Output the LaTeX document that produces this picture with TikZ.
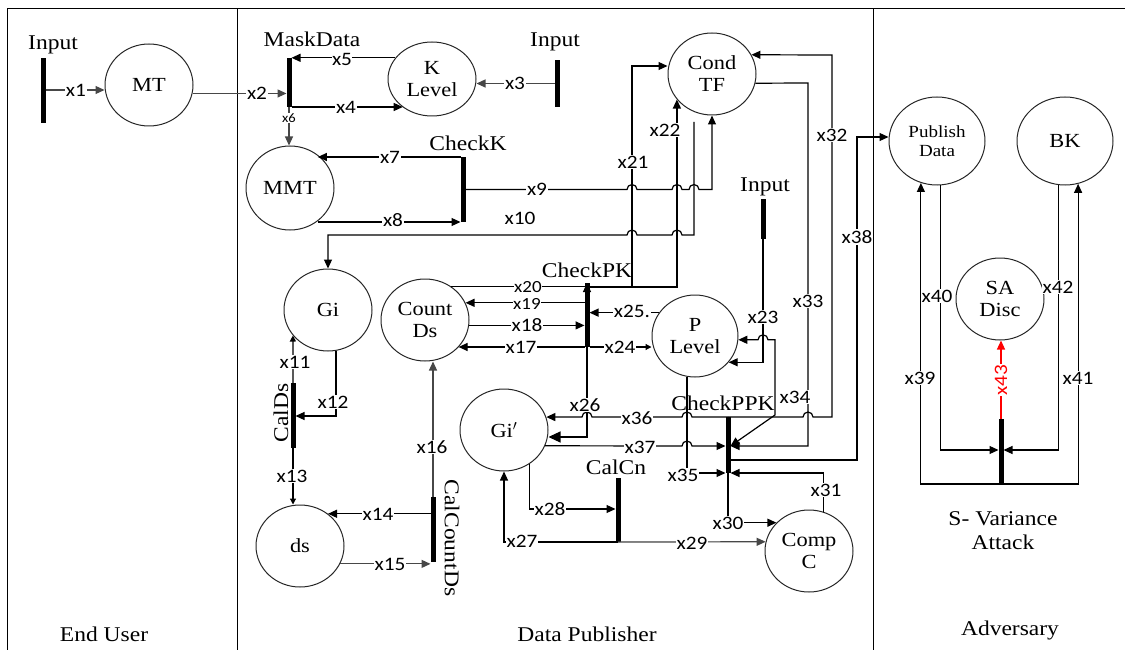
\documentclass[tikz,border=0pt]{standalone}
\usepackage{fontspec}
\setmainfont{Liberation Serif}[FakeStretch=1.12]
\newfontfamily\labfont{Carlito}[FakeStretch=1.12]
\usetikzlibrary{shapes.geometric,arrows.meta}
\begin{document}
\begin{tikzpicture}[x=1pt,y=-1pt,
 place/.style={ellipse,draw=black!85,line width=1pt,minimum width=88pt,minimum height=82pt,inner sep=0pt,align=center,font=\fontsize{20}{22}\selectfont},
 bar/.style={fill=black,minimum width=5pt,inner sep=0pt,outer sep=0pt},
 lab/.style={fill=white,inner sep=1pt,font=\labfont\fontsize{19}{19}\selectfont},
 slab/.style={fill=white,inner sep=0pt,font=\labfont\fontsize{17}{17}\selectfont},
 ttl/.style={font=\fontsize{21}{24}\selectfont,inner sep=0pt,align=center},
 plain/.style={line width=1.2pt},
 con/.style={line width=1.2pt,-{Triangle[length=9pt,width=8pt]}},
 gcon/.style={con,draw=black!72,fill=black!72},
 scon/.style={line width=1.2pt,-{Triangle[length=6pt,width=6pt]}},
 both/.style={line width=1.2pt,{Triangle[length=9pt,width=8pt]}-{Triangle[length=9pt,width=8pt]}}]
\useasboundingbox (0,0) rectangle (1125,650);
% frame
\draw[line width=1pt] (7,650) -- (7,9) -- (1125,9);
\draw[line width=1pt] (237,9) -- (237,650);
\draw[line width=1pt] (873,9) -- (873,650);
\node[ttl] at (104,634) {End User};
\node[ttl] at (587,634) {Data Publisher};
\node[ttl] at (1010,630) {Adversary};
% nodes
\node[bar,minimum height=65pt] (in1) at (43,90.5) {};
\node[ttl] at (53,45) {Input};
\node[place] (mt) at (149,85) {MT};
\node[bar,minimum height=49pt] (mask) at (289,82.5) {};
\node[ttl] at (312,39) {MaskData};
\node[place,minimum height=74pt] (kl) at (432,79) {K\\Level};
\node[bar,minimum height=47pt] (in2) at (557,83.5) {};
\node[ttl] at (555,42) {Input};
\node[place,minimum height=84pt] (mmt) at (290,188) {MMT};
\node[bar,minimum height=65pt] (chk) at (463,189.5) {};
\node[ttl] at (468,143) {CheckK};
\node[place] (ctf) at (712,74) {Cond\\TF};
\node[bar,minimum height=40pt] (in3) at (763,219) {};
\node[ttl] at (765,187) {Input};
\node[place] (gi) at (328,310) {Gi};
\node[place] (cds) at (425,320) {Count\\Ds};
\node[bar,minimum height=64pt] (cpk) at (587,315) {};
\node[ttl] at (587,270) {CheckPK};
\node[place,minimum width=86pt] (pl) at (695,336) {P\\Level};
\node[bar,minimum height=65pt] (cal) at (293,415.5) {};
\node[ttl,rotate=90] at (281,413) {CalDs};
\node[place] (ds) at (300,546) {ds};
\node[bar,minimum height=65pt] (ccd) at (433,529.5) {};
\node[ttl,rotate=-90] at (452,538) {CalCountDs};
\node[place] (gip) at (504,430) {Gi$'$};
\node[bar,minimum height=56pt] (cppk) at (728,445) {};
\node[ttl] at (723,403) {CheckPPK};
\node[bar,minimum height=64pt] (ccn) at (618,510) {};
\node[ttl] at (616,467) {CalCn};
\node[place] (cc) at (809,551) {Comp\\C};
\node[place,minimum width=96pt,minimum height=88pt,font=\fontsize{17}{19}\selectfont] (pd) at (937,141) {Publish\\Data};
\node[place,minimum width=96pt,minimum height=88pt] (bk) at (1065,141) {BK};
\node[place] (sa) at (1000,299) {SA\\Disc};
\node[bar,minimum height=65pt] (sva) at (1001,451.5) {};
\node[ttl] at (1003,531) {S- Variance\\Attack};
% End user / masking
\draw[gcon] (in1.east |- 0,90) -- (mt.west |- 0,90);
\node[lab] at (76,90) {x1};
\draw[gcon] (mt.-11) -- (mt.-11 -| mask.west);
\node[lab] at (257,93) {x2};
\draw[con] (kl.150) -- (kl.150 -| mask.east);
\node[lab,inner sep=0pt] at (342,59) {x5};
\draw[con] (mask.south east) -- (mask.south east -| kl.-136);
\node[lab] at (346,107) {x4};
\draw[gcon] (in2.west) -- (in2.west -| kl.east);
\node[lab] at (515,83) {x3};
\draw[gcon] (mask.south) -- (mask.south |- mmt.north);
\node[lab,font=\labfont\fontsize{13}{13}\selectfont,inner sep=0.5pt] at (289,118) {x6};
\draw[con] (chk.north west) -- (chk.north west -| mmt.50);
\node[lab] at (390,157) {x7};
\draw[con] (mmt.-50 |- chk.south west) -- (chk.south west);
\node[lab] at (393,220) {x8};
% x9
\draw[con] (chk.east) -- (627,189.5) arc[start angle=180,end angle=0,radius=5pt]
  -- (672,189.5) arc[start angle=180,end angle=0,radius=5pt]
  -- (689,189.5) arc[start angle=180,end angle=0,radius=5pt]
  -- (ctf.south |- chk.east) -- (ctf.south);
\node[lab] at (537,189) {x9};
% x10
\coordinate (x10s) at (694,122);
\draw[con] (x10s) -- (694,235) -- (682,235) arc[start angle=0,end angle=180,radius=5pt]
  -- (637,235) arc[start angle=0,end angle=180,radius=5pt]
  -- (gi.north |- 0,235) -- (gi.north);
\node[lab] at (520,218) {x10};
% x21, x22
\draw[con] (cpk.north east |- 0,287) -- (ctf.-144.5 |- 0,287) -- (ctf.-144.5);
\coordinate (j21) at (632,287);
\draw[con] (j21) -- (632,66) -- (ctf.west |- 0,66);
\node[lab] at (633,162) {x21};
\node[lab] at (665,130) {x22};
% CheckPK arcs
\draw[plain] (cds.52) -- (cds.52 -| cpk.west);
\node[slab] at (528,287) {x20};
\draw[plain,{Triangle[length=9pt,width=8pt]}-{Triangle[length=12pt,width=11pt]}] (cpk.north) -- (cpk.north |- 0,437) -- (gip.east |- 0,437);
\draw[con] (cds.23 -| cpk.west) -- (cds.23);
\node[slab] at (527,304) {x19};
\draw[con] (cds.-7) -- (cds.-7 -| cpk.west);
\node[lab] at (527,325) {x18};
\draw[con] (cpk.south west) -- (cpk.south west -| cds.-39);
\node[lab] at (521,347) {x17};
\draw[scon] (cpk.south east) -- (cpk.south east -| pl.west);
\node[lab] at (620,347) {x24};
\draw[con] (pl.147) -- (pl.147 -| cpk.east);
\node[lab] at (632,311) {x25.};
% P Level
\draw[con] (in3.south) -- (in3.south |- pl.-38) -- (pl.-38);
\node[lab] at (763,317) {x23};
\draw[both] (pl.-5) -- (758,339.8) arc[start angle=180,end angle=0,radius=5pt]
  -- (775,339.8) -- (775,415) -- (cppk.east |- 0,446);
\draw[con] (ctf.-12) -- (808,83) -- (808,446) -- (cppk.east |- 0,446);
\node[lab] at (808,301) {x33};
\node[lab] at (795,397) {x34};
% x36, x32
\draw[con] (cppk.north) -- (692,417) arc[start angle=0,end angle=180,radius=5pt]
  -- (592,417) arc[start angle=0,end angle=180,radius=5pt] -- (gip.17);
\node[lab] at (585,405) {x26};
\node[lab] at (637,418) {x36};
\draw[con] (cppk.north) -- (803,417) arc[start angle=180,end angle=0,radius=5pt]
  -- (832,417) -- (832,55) -- (ctf.26);
\node[lab] at (832,135) {x32};
% x37
\draw[con] (gip.-21.6) -- (682,446) arc[start angle=180,end angle=0,radius=5pt]
  -- (cppk.west |- 0,446);
\node[lab] at (640,447) {x37};
% x35
\draw[con] (pl.-101) -- (pl.-101 |- cppk.south west) -- (cppk.south west);
\node[lab] at (683,475) {x35};
% x31
\draw[con] (cc.70) -- (cc.70 |- cppk.south east) -- (cppk.south east);
\node[lab] at (826,490) {x31};
% x38
\draw[con] (cppk.east |- 0,460) -- (857,460) -- (857,137) -- (pd.west |- 0,137);
\node[lab] at (857,237) {x38};
% x30
\draw[con] (cppk.south) -- (cppk.south |- cc.139) -- (cc.139);
\node[lab] at (728,523) {x30};
% CalCn
\draw[con] (gip.-53.4) -- (gip.-53.4 |- 0,509) -- (ccn.west |- 0,509);
\node[lab] at (550,509) {x28};
\draw[con] (ccn.south) -- (ccn.south -| gip.south) -- (gip.south);
\node[lab] at (522,541) {x27};
\draw[gcon] (ccn.south) -- (cc.168);
\node[lab] at (692,543) {x29};
% Gi / ds
\draw[scon] (cal.north) -- (gi.-144.7);
\node[lab] at (295,362) {x11};
\draw[con] (gi.-79) -- (gi.-79 |- 0,416) -- (cal.east |- 0,416);
\node[lab] at (333,402) {x12};
\draw[scon] (cal.south) -- (cal.south |- ds.north);
\node[lab] at (292,476) {x13};
\draw[con] (ds.49 -| ccd.west) -- (ds.49);
\node[lab] at (378,514) {x14};
\draw[gcon] (ds.-24.5) -- (ds.-24.5 -| ccd.west);
\node[lab] at (390,564) {x15};
\draw[gcon] (ccd.north) -- (ccd.north |- cds.south);
\node[lab] at (432,447) {x16};
% Adversary
\draw[con] (sva.south) -- (sva.south -| pd.-111) -- (pd.-111);
\node[lab] at (920,378) {x39};
\draw[con] (pd.-86) -- (pd.-86 |- 0,450) -- (sva.west |- 0,450);
\node[lab] at (937,296) {x40};
\draw[con] (sva.south) -- (sva.south -| bk.-73) -- (bk.-73);
\node[lab] at (1078,378) {x41};
\draw[con] (bk.-98) -- (bk.-98 |- 0,450) -- (sva.east |- 0,450);
\node[lab] at (1058,287) {x42};
\draw[con,red] (sva.north) -- (sva.north |- sa.south);
\node[lab,text=red,rotate=90] at (1001,380) {x43};
\end{tikzpicture}
\end{document}
